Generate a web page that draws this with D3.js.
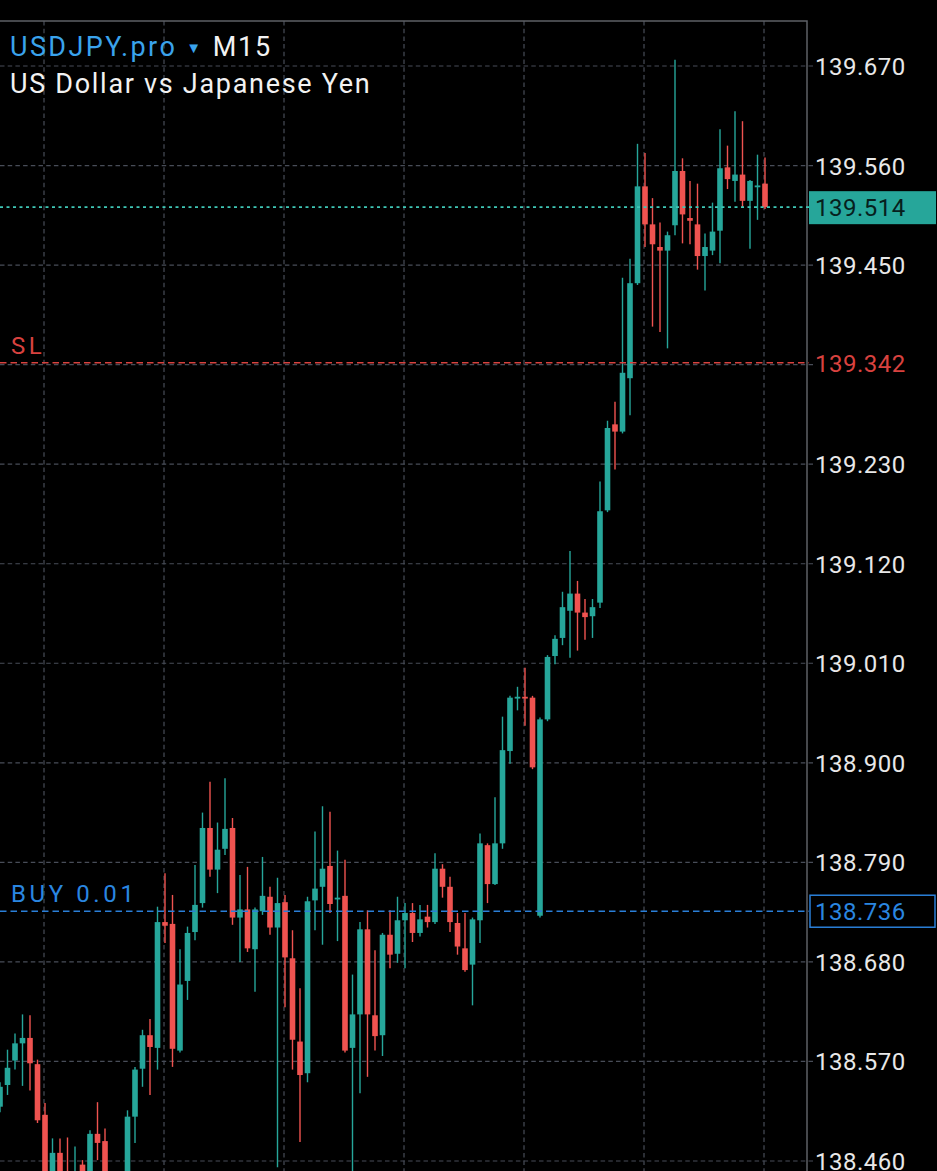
<!DOCTYPE html>
<meta charset="utf-8">
<style>
  body { margin: 0; background: #000; }
  svg { display: block; }
  .grid line { stroke: #484d58; stroke-width: 1.2px; stroke-dasharray: 4.5,3.2; }
  .tick-label { font: 24px Roboto, "Liberation Sans", sans-serif; fill: #e8e8e8; letter-spacing: 0.5px; }
  .tag { font: 24px Roboto, "Liberation Sans", sans-serif; letter-spacing: 3.6px; }
  .head { font: 27px Roboto, "Liberation Sans", sans-serif; letter-spacing: 1.7px; }
</style>
<body>
<div id="chart"></div>
<script src="https://d3js.org/d3.v7.min.js"></script>
<script>

// M15 candles, oldest first (first one is cut by the left edge)
var opens = [138.520,138.544,138.571,138.590,138.596,138.567,138.511,138.420,138.469,138.440,
  138.420,138.456,138.435,138.490,138.482,138.425,138.405,138.437,138.509,138.562,
  138.599,138.585,138.724,138.722,138.582,138.659,138.713,138.745,138.828,138.782,
  138.805,138.828,138.729,138.738,138.694,138.736,138.752,138.718,138.746,138.684,
  138.592,138.557,138.748,138.763,138.786,138.749,138.753,138.585,138.622,138.716,
  138.621,138.599,138.710,138.689,138.726,138.734,138.712,138.730,138.724,138.783,
  138.763,138.723,138.695,138.677,138.726,138.809,138.766,138.811,138.913,138.971,
  138.973,138.972,138.731,138.948,139.018,139.038,139.068,139.087,139.066,139.062,
  139.077,139.179,139.274,139.266,139.325,139.430,139.537,139.495,139.470,139.466,
  139.494,139.554,139.502,139.495,139.460,139.466,139.488,139.558,139.543,139.550,
  139.521,139.536,139.540];
var highs = [138.547,138.583,138.601,138.622,138.621,138.572,138.524,138.485,138.485,138.486,
  138.476,138.461,138.494,138.525,138.496,138.440,138.445,138.516,138.564,138.605,
  138.617,138.741,138.778,138.754,138.694,138.719,138.787,138.845,138.879,138.834,
  138.883,138.839,138.776,138.785,138.740,138.796,138.763,138.773,138.754,138.715,
  138.651,138.752,138.824,138.852,138.846,138.803,138.793,138.666,138.724,138.737,
  138.693,138.712,138.737,138.752,138.745,138.745,138.743,138.743,138.800,138.788,
  138.774,138.734,138.734,138.729,138.822,138.811,138.862,138.951,138.974,138.984,
  139.005,138.974,138.950,139.019,139.041,139.089,139.134,139.101,139.081,139.081,
  139.211,139.278,139.299,139.436,139.457,139.584,139.574,139.524,139.497,139.487,
  139.677,139.568,139.543,139.540,139.485,139.519,139.600,139.582,139.620,139.609,
  139.544,139.572,139.569];
var lows = [138.514,138.533,138.561,138.543,138.538,138.502,138.410,138.405,138.415,138.400,
  138.410,138.420,138.425,138.461,138.410,138.395,138.395,138.430,138.480,138.542,
  138.533,138.561,138.701,138.564,138.580,138.638,138.704,138.740,138.774,138.756,
  138.798,138.721,138.680,138.691,138.647,138.732,138.710,138.453,138.630,138.561,
  138.481,138.547,138.715,138.699,138.734,138.703,138.580,138.440,138.535,138.553,
  138.582,138.576,138.673,138.679,138.673,138.702,138.708,138.718,138.722,138.751,
  138.713,138.688,138.669,138.632,138.701,138.745,138.765,138.805,138.899,138.958,
  138.941,138.893,138.729,138.946,139.009,139.030,139.016,139.024,139.036,139.038,
  139.071,139.177,139.224,139.264,139.284,139.428,139.470,139.382,139.376,139.358,
  139.483,139.474,139.473,139.445,139.422,139.461,139.452,139.534,139.520,139.514,
  139.468,139.500,139.512];
var closes = [138.542,138.563,138.590,138.596,138.568,138.505,138.425,138.469,138.430,138.420,
  138.440,138.430,138.490,138.480,138.425,138.405,138.435,138.509,138.561,138.599,
  138.586,138.724,138.720,138.584,138.655,138.712,138.743,138.828,138.782,138.804,
  138.827,138.729,138.738,138.695,138.738,138.753,138.718,138.745,138.685,138.594,
  138.555,138.747,138.761,138.783,138.744,138.751,138.582,138.622,138.716,138.622,
  138.598,138.710,138.688,138.726,138.734,138.712,138.727,138.724,138.783,138.763,
  138.724,138.697,138.671,138.727,138.811,138.766,138.811,138.914,138.972,138.973,
  138.971,138.895,138.948,139.017,139.037,139.072,139.087,139.066,139.061,139.072,
  139.178,139.270,139.266,139.331,139.430,139.537,139.495,139.473,139.466,139.483,
  139.554,139.506,139.499,139.460,139.470,139.487,139.557,139.545,139.550,139.521,
  139.543,139.538,139.514];

// price axis
var tickValues = [139.670,139.560,139.450,139.340,139.230,139.120,139.010,138.900,138.790,138.680,138.570,138.460];
var hiddenTicks = [139.340];           // covered by the SL label
var gridEvery = 16;                    // one vertical grid line every 16 bars (4h)

// order lines
var bidPrice = 139.514;
var slPrice = 139.342;
var buyPrice = 138.736, buyLabel = "BUY 0.01";

var symbol = "USDJPY.pro", period = "M15", description = "US Dollar vs Japanese Yen";

var W = 937, H = 1171;
var plot = {left: 0, top: 21, right: 807, bottom: H};
var up = "#26a69a", down = "#ef5350";

var svg = d3.select("#chart").append("svg").attr("width", W).attr("height", H);

var x = d3.scaleLinear().domain([0, opens.length - 1]).range([0, 765]);
var y = d3.scaleLinear().domain([138.460, 139.670]).range([1161, 66]);

svg.append("clipPath").attr("id", "clip").append("rect")
  .attr("x", plot.left).attr("y", plot.top)
  .attr("width", plot.right - plot.left).attr("height", plot.bottom - plot.top);

// grid
var grid = svg.append("g").attr("class", "grid");
grid.selectAll("line.h").data(tickValues).enter().append("line")
  .attr("x1", plot.left).attr("x2", plot.right + 6)
  .attr("y1", function(d) { return y(d); }).attr("y2", function(d) { return y(d); });
var vIdx = d3.range(6, opens.length, gridEvery);
grid.selectAll("line.v").data(vIdx).enter().append("line")
  .attr("x1", function(d) { return x(d) - 1; }).attr("x2", function(d) { return x(d) - 1; })
  .attr("y1", plot.top).attr("y2", plot.bottom);

// frame
svg.append("path")
  .attr("d", "M" + plot.left + "," + plot.top + "H" + plot.right + "V" + plot.bottom)
  .attr("fill", "none").attr("stroke", "#5d6066").attr("stroke-width", 1.5);

// candles
var bars = d3.range(opens.length).map(function(i) {
  return {i: i, o: opens[i], h: highs[i], l: lows[i], c: closes[i]};
});
var cg = svg.append("g").attr("clip-path", "url(#clip)");
var candle = cg.selectAll("g.candle").data(bars).enter().append("g");
candle.append("line")
  .attr("x1", function(d) { return x(d.i); }).attr("x2", function(d) { return x(d.i); })
  .attr("y1", function(d) { return y(d.h); }).attr("y2", function(d) { return y(d.l); })
  .attr("stroke", function(d) { return d.c >= d.o ? up : down; })
  .attr("stroke-width", 1.4);
candle.append("rect")
  .attr("x", function(d) { return x(d.i) - 2.8; })
  .attr("width", 5.6)
  .attr("y", function(d) { return y(Math.max(d.o, d.c)); })
  .attr("height", function(d) { return Math.max(1.5, Math.abs(y(d.o) - y(d.c))); })
  .attr("fill", function(d) { return d.c >= d.o ? up : down; });

// level lines
function level(price, color, dash, width) {
  svg.append("line")
    .attr("x1", plot.left).attr("x2", plot.right + 2)
    .attr("y1", y(price)).attr("y2", y(price))
    .attr("stroke", color).attr("stroke-width", width).attr("stroke-dasharray", dash);
}
level(bidPrice, "#3fc7b6", "3,3.5", 1.6);
level(slPrice, "#d8423f", "6.5,4", 1.5);
level(buyPrice, "#2a7fd8", "6.5,4", 1.5);

// price labels
var labels = svg.append("g");
labels.selectAll("text").data(tickValues.filter(function(t) { return hiddenTicks.indexOf(t) < 0; }))
  .enter().append("text")
  .attr("class", "tick-label")
  .attr("x", 815).attr("y", function(d) { return y(d) + 9; })
  .text(function(d) { return d3.format(".3f")(d); });

svg.append("rect").attr("x", 809).attr("y", y(bidPrice) - 16).attr("width", 127).attr("height", 33)
  .attr("fill", up);
svg.append("text").attr("class", "tick-label").style("fill", "#06201d")
  .attr("x", 815).attr("y", y(bidPrice) + 9).text(d3.format(".3f")(bidPrice));

svg.append("text").attr("class", "tick-label").style("fill", "#d8423f")
  .attr("x", 815).attr("y", y(slPrice) + 9).text(d3.format(".3f")(slPrice));
svg.append("text").attr("class", "tag").style("fill", "#d8423f")
  .attr("x", 11).attr("y", y(slPrice) - 9).text("SL");

svg.append("rect").attr("x", 810).attr("y", y(buyPrice) - 16).attr("width", 125).attr("height", 32)
  .attr("fill", "#000").attr("stroke", "#2a7fd8").attr("stroke-width", 1.5);
svg.append("text").attr("class", "tick-label").style("fill", "#2a86e0")
  .attr("x", 815).attr("y", y(buyPrice) + 9).text(d3.format(".3f")(buyPrice));
svg.append("text").attr("class", "tag").style("fill", "#2a86e0")
  .attr("x", 11).attr("y", y(buyPrice) - 9).text(buyLabel);

// header
var h1 = svg.append("text").attr("class", "head").attr("x", 10).attr("y", 56);
h1.append("tspan").attr("fill", "#3aa3ec").style("letter-spacing", "2.4px").text(symbol);
h1.append("tspan").attr("fill", "#3aa3ec").attr("font-size", 15).attr("dx", 9).attr("dy", -3).text("\u25BC");
h1.append("tspan").attr("fill", "#f2f2f2").attr("dx", 10).attr("dy", 3).text(period);
svg.append("text").attr("class", "head").attr("x", 10).attr("y", 93).attr("fill", "#f2f2f2").text(description);

</script>
</body>
